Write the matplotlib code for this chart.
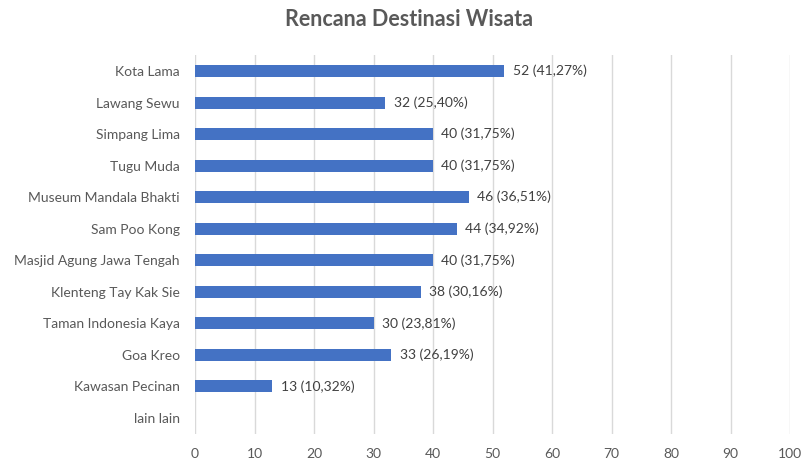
import matplotlib
matplotlib.use("Agg")
import matplotlib.pyplot as plt

plt.rcParams['font.family'] = ['Lato', 'DejaVu Sans']

# data, top to bottom
categories = ["Kota Lama", "Lawang Sewu", "Simpang Lima", "Tugu Muda",
              "Museum Mandala Bhakti", "Sam Poo Kong", "Masjid Agung Jawa Tengah",
              "Klenteng Tay Kak Sie", "Taman Indonesia Kaya", "Goa Kreo",
              "Kawasan Pecinan", "lain lain"]
counts = [52, 32, 40, 40, 46, 44, 40, 38, 30, 33, 13, 0]
labels = ["52 (41,27%)", "32 (25,40%)", "40 (31,75%)", "40 (31,75%)",
          "46 (36,51%)", "44 (34,92%)", "40 (31,75%)", "38 (30,16%)",
          "30 (23,81%)", "33 (26,19%)", "13 (10,32%)", ""]
xticks = [0, 10, 20, 30, 40, 50, 60, 70, 80, 90, 100]

txt = '#595959'
fig = plt.figure(figsize=(8.01, 4.66), dpi=100)
ax = fig.add_axes([195/801, 1 - 433.75/466, (790 - 195)/801, 378.5/466])

ypos = list(range(len(categories)))
ax.barh(ypos, counts, height=0.38, color='#4472C4', zorder=3)
for y, c, lab in zip(ypos, counts, labels):
    if lab:
        ax.annotate(lab, (c, y), xytext=(6, 0), textcoords='offset points',
                    va='center', ha='left', fontsize=10, color='#404040')

ax.set_xlim(0, 100)
ax.set_ylim(len(categories) - 0.5, -0.5)
ax.set_xticks(xticks)
ax.set_yticks(ypos)
ax.set_yticklabels(categories)
ax.tick_params(axis='both', length=0, colors=txt, labelsize=10)
ax.tick_params(axis='x', pad=10)
ax.tick_params(axis='y', pad=11)
ax.grid(axis='x', color='#d9d9d9', linewidth=1, zorder=0)
for s in ax.spines.values():
    s.set_visible(False)

fig.text(409/801, 1 - 20/466, "Rencana Destinasi Wisata", ha='center', va='center',
         fontsize=15.5, fontweight='bold', color=txt)

fig.savefig('out.png', dpi=100)
